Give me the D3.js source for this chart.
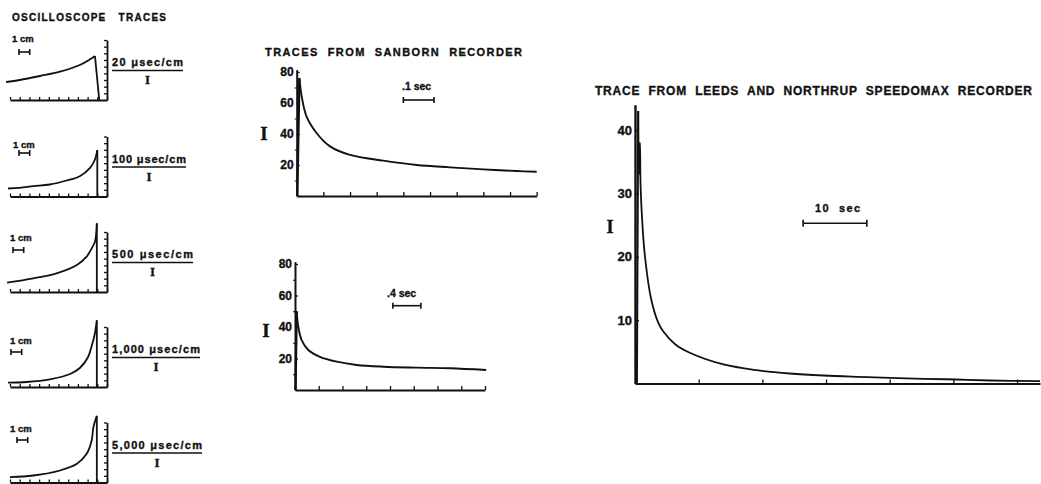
<!DOCTYPE html>
<html><head><meta charset="utf-8">
<script src="https://cdnjs.cloudflare.com/ajax/libs/d3/7.8.5/d3.min.js"></script>
<style>
html,body{margin:0;padding:0;background:#fff;}
svg text{font-family:"Liberation Sans",Arial,sans-serif;font-weight:bold;fill:#111;stroke:#111;stroke-width:0.35px;white-space:pre;}
</style></head><body>
<svg id="fig" width="1041" height="484"></svg>
<script>
// ---------------- data ----------------
// Oscilloscope sweeps; traces in screen centimetres [horizontal, vertical]
const scopeSweeps = ["20 μsec/cm", "100 μsec/cm", "500 μsec/cm", "1,000 μsec/cm", "5,000 μsec/cm"];
const scope20   = [[-0.4,2.7],[1.0,3.0],[3.1,3.6],[5.15,4.25],[7.2,5.25],[8.25,6.1],[8.76,6.6]];
const scope100  = [[-0.2,1.2],[1.0,1.3],[2.4,1.55],[4.1,1.8],[5.85,2.4],[7.2,3.05],[8.25,4.3],[8.76,5.55],[9.0,6.95]];
const scope500  = [[-0.3,1.4],[2.4,2.05],[4.8,2.8],[6.9,4.05],[7.9,5.3],[8.42,6.55],[8.76,7.55],[8.95,10.3]];
const scope1000 = [[-0.2,0.65],[1.7,0.75],[4.1,1.15],[6.2,1.95],[7.2,2.85],[8.05,4.5],[8.45,6.3],[8.72,7.8],[8.95,10.0]];
const scope5000 = [[0,0.8],[2.4,1.05],[5.15,1.8],[6.9,2.8],[7.9,4.3],[8.42,6.3],[8.6,8.3],[8.95,10.0]];
const scopeTraces = [scope20, scope100, scope500, scope1000, scope5000];
const scopeDropX = [9.2, 9.0, 8.95, 8.95, 8.95];   // where the beam returns to zero

// Sanborn recorder traces: [chart division, I]
const sanbornTicksI = [20, 40, 60, 80];
const sanbornMinorI = [10, 30, 50, 70];
const sanbornFast = [[0.1,76],[0.19,64],[0.375,51],[0.75,40.5],[1.25,32],[2.0,26.5],[3.25,22.8],[4.5,20],[5.75,18.5],[7.0,17.2],[8.25,16.1],[9.0,15.6]];
const sanbornSlow = [[0.07,50],[0.14,40],[0.28,31.7],[0.56,25.4],[1.05,21.1],[1.76,18],[2.6,15.9],[3.72,14.8],[5.13,14.2],[6.53,13.8],[8.05,12.7]];
const sanbornLabels = [".1 sec", ".4 sec"];

// Leeds & Northrup Speedomax trace: [seconds, I]
const leedsTicksI = [10, 20, 30, 40];
const leedsTicksSec = [10, 20, 30, 40, 50, 60];
const leedsTrace = [[0.5,43],[0.62,33],[0.78,38],[0.88,31],[1.2,24.5],[1.57,20],[2.5,13.5],[3.65,9.6],[4.45,8.2],[6.3,6.2],[8.6,4.85],[13.9,3.0],[19.1,2.1],[24.3,1.58],[29.6,1.26],[34.8,1.06],[40,0.9],[45.3,0.74],[50.5,0.63],[55.7,0.47],[63.6,0.36]];
const leedsScaleSec = 10;

// ---------------- drawing ----------------
const INK = "#111";
const svg = d3.select("#fig");

function styleAxis(g, w) {
  g.select(".domain").attr("stroke", INK).attr("stroke-width", w || 1.6);
  g.selectAll(".tick line").attr("stroke", INK).attr("stroke-width", 1.3);
  g.selectAll("text").attr("font-family", null).attr("font-size", null).attr("fill", INK);
}
function hBar(x1, x2, y, cap) {
  const g = svg.append("g").attr("stroke", INK).attr("stroke-width", 1.6);
  g.append("line").attr("x1", x1).attr("x2", x2).attr("y1", y).attr("y2", y);
  g.append("line").attr("x1", x1).attr("x2", x1).attr("y1", y - cap).attr("y2", y + cap);
  g.append("line").attr("x1", x2).attr("x2", x2).attr("y1", y - cap).attr("y2", y + cap);
}
function iSymbol(x, y, size) {
  svg.append("text").attr("x", x).attr("y", y).attr("text-anchor", "middle")
    .style("font-family", "'Liberation Serif','DejaVu Serif',serif").style("font-size", size + "px")
    .text("I");
}
const smooth = d3.curveCatmullRom.alpha(0.5);

// ---- oscilloscope traces ----
svg.append("text").attr("x", 12).attr("y", 21).style("font-size", "10px")
  .attr("textLength", 154).attr("lengthAdjust", "spacing").text("OSCILLOSCOPE   TRACES");

const scopeBase = [100, 196.5, 292, 387, 482.5];
const cmPos = [[12,42,19,52],[13,148,19,153],[10,241,13,250],[10,344,11,352],[10,432,17,440]];
const sweepLen = [71, 74, 81, 88, 90];

scopeTraces.forEach((trace, i) => {
  const by = scopeBase[i];
  const x = d3.scaleLinear().domain([0, 10]).range([10, 107]);
  const y = d3.scaleLinear().domain([0, 9]).range([by, by - 60]);

  const gx = svg.append("g").attr("transform", `translate(0,${by})`)
    .call(d3.axisBottom(x).tickValues(d3.range(0, 11)).tickSizeInner(-3).tickSizeOuter(0).tickFormat(""));
  styleAxis(gx, 1.8);
  const gy = svg.append("g").attr("transform", "translate(107,0)")
    .call(d3.axisRight(y).tickValues(d3.range(1, 10)).tickSizeInner(-3).tickSizeOuter(0).tickFormat(""));
  styleAxis(gy, 1.8);

  const line = d3.line().x(d => x(d[0])).y(d => y(d[1])).curve(smooth);
  svg.append("path").attr("d", line(trace)).attr("fill", "none").attr("stroke", INK).attr("stroke-width", 1.8);
  const last = trace[trace.length - 1];
  svg.append("path").attr("d", d3.line().x(d => x(d[0])).y(d => y(d[1]))([last, [scopeDropX[i], 0]]))
    .attr("fill", "none").attr("stroke", INK).attr("stroke-width", 1.8);

  // 1 cm scale marker
  const c = cmPos[i];
  svg.append("text").attr("x", c[0]).attr("y", c[1]).style("font-size", "9.5px").text("1 cm");
  hBar(c[2], c[2] + (x(1) - x(0)) + 1, c[3], 3);

  // sweep-speed label over I
  const lx = 112, len = sweepLen[i];
  svg.append("text").attr("x", lx).attr("y", by - 34).style("font-size", "11px")
    .attr("textLength", len).attr("lengthAdjust", "spacing").text(scopeSweeps[i]);
  svg.append("line").attr("x1", lx).attr("x2", lx + len).attr("y1", by - 29.5).attr("y2", by - 29.5)
    .attr("stroke", INK).attr("stroke-width", 1.6);
  iSymbol(lx + len / 2, by - 16, 13);
});

// ---- Sanborn recorder ----
svg.append("text").attr("x", 265).attr("y", 56).style("font-size", "11px")
  .attr("textLength", 257).attr("lengthAdjust", "spacing").text("TRACES  FROM  SANBORN  RECORDER");

const sanbornPanels = [
  { data: sanbornFast, divs: 9, x0: 296.7, x1: 536.7, y0: 196, y80: 72, bar: [4.0, 5.15], barY: 100, lab: [402, 90], iPos: [264, 140] },
  { data: sanbornSlow, divs: 8, x0: 295, x1: 485, y0: 390, y80: 264, bar: [4.12, 5.3], barY: 305.7, lab: [387, 297], iPos: [266, 337] }
];
sanbornPanels.forEach((p, k) => {
  const x = d3.scaleLinear().domain([0, p.divs]).range([p.x0, p.x1]);
  const y = d3.scaleLinear().domain([0, 80]).range([p.y0, p.y80]);
  const yAx = d3.scaleLinear().domain([0, 81.5]).range([p.y0, y(81.5)]);

  const gx = svg.append("g").attr("transform", `translate(0,${p.y0})`)
    .call(d3.axisBottom(x).tickValues(d3.range(0, p.divs + 1)).tickSizeInner(-4).tickSizeOuter(0).tickFormat(""));
  styleAxis(gx, 1.8);
  const gy = svg.append("g").attr("transform", `translate(${p.x0},0)`)
    .call(d3.axisLeft(yAx).tickValues(sanbornTicksI).tickSizeInner(-3).tickSizeOuter(0).tickPadding(3));
  styleAxis(gy, 2);
  gy.selectAll("text").style("font-size", "12px");
  const gm = svg.append("g").attr("transform", `translate(${p.x0},0)`)
    .call(d3.axisLeft(yAx).tickValues(sanbornMinorI).tickSizeInner(2).tickSizeOuter(0).tickFormat(""));
  gm.select(".domain").remove();
  gm.selectAll(".tick line").attr("stroke", INK).attr("stroke-width", 1);

  // initial rise and decay
  const peak = p.data[0];
  svg.append("path").attr("d", d3.line().x(d => x(d[0])).y(d => y(d[1]))([[0.02, 0], peak]))
    .attr("fill", "none").attr("stroke", INK).attr("stroke-width", 2.4);
  svg.append("path").attr("d", d3.line().x(d => x(d[0])).y(d => y(d[1])).curve(smooth)(p.data))
    .attr("fill", "none").attr("stroke", INK).attr("stroke-width", 1.9);

  hBar(x(p.bar[0]), x(p.bar[1]), p.barY, 3);
  svg.append("text").attr("x", p.lab[0]).attr("y", p.lab[1]).style("font-size", "10.5px").text(sanbornLabels[k]);
  iSymbol(p.iPos[0], p.iPos[1], 19);
});

// ---- Leeds & Northrup Speedomax ----
svg.append("text").attr("x", 595).attr("y", 95).style("font-size", "12px")
  .attr("textLength", 437).attr("lengthAdjust", "spacing").text("TRACE  FROM  LEEDS  AND  NORTHRUP  SPEEDOMAX  RECORDER");
{
  const x = d3.scaleLinear().domain([0, 63.6]).range([635, 1040]);
  const y = d3.scaleLinear().domain([0, 40]).range([383.5, 130]);
  const yAx = d3.scaleLinear().domain([0, 44]).range([383.5, y(44)]);

  const gx = svg.append("g").attr("transform", "translate(0,383.5)")
    .call(d3.axisBottom(x).tickValues(leedsTicksSec).tickSizeInner(-4).tickSizeOuter(0).tickFormat(""));
  styleAxis(gx, 1.8);
  const gy = svg.append("g").attr("transform", "translate(635,0)")
    .call(d3.axisLeft(yAx).tickValues(leedsTicksI).tickSizeInner(-4).tickSizeOuter(0).tickPadding(3));
  styleAxis(gy, 2.4);
  gy.selectAll("text").style("font-size", "13px");

  svg.append("path").attr("d", d3.line().x(d => x(d[0])).y(d => y(d[1]))([[0.3, 0], leedsTrace[0]]))
    .attr("fill", "none").attr("stroke", INK).attr("stroke-width", 2);
  svg.append("path").attr("d", d3.line().x(d => x(d[0])).y(d => y(d[1])).curve(smooth)(leedsTrace))
    .attr("fill", "none").attr("stroke", INK).attr("stroke-width", 1.8);

  const b0 = 26.4;
  hBar(x(b0), x(b0 + leedsScaleSec), 223.3, 3.5);
  svg.append("text").attr("x", 815).attr("y", 212).style("font-size", "11px")
    .attr("textLength", 45).attr("lengthAdjust", "spacing").text("10  sec");
  iSymbol(610, 233, 18);
}
</script>
</body></html>
